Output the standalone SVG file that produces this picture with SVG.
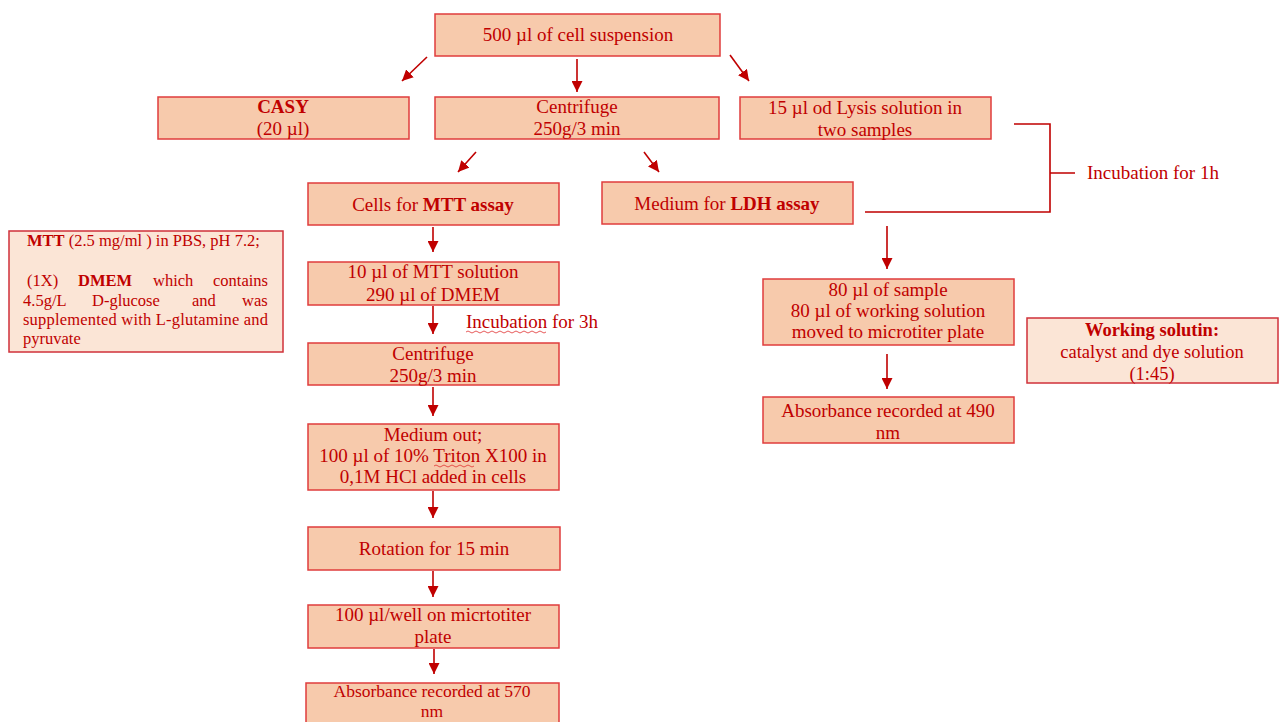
<svg xmlns="http://www.w3.org/2000/svg" width="1281" height="722" viewBox="0 0 1281 722">
<style>
text{font-family:"Liberation Serif","Times New Roman",serif;font-size:19px;fill:#c00000;text-anchor:middle}
.b{font-weight:bold}
.box{fill:#f7caac;stroke:#e03c3c;stroke-width:1.5}
.note{fill:#fbe5d6;stroke:#d0303a;stroke-width:1.5}
.n{font-size:16.5px;text-anchor:start}
.c{stroke:#c00000;stroke-width:1.6;fill:none}
.w{stroke:#e03030;stroke-width:0.8;fill:none}
</style>
<defs>
<marker id="ah" viewBox="0 0 10 10" refX="10" refY="5" markerWidth="11" markerHeight="11" markerUnits="userSpaceOnUse" orient="auto">
<path d="M0,0 L10,5 L0,10 z" fill="#c00000"/>
</marker>
</defs>
<rect width="1281" height="722" fill="#ffffff"/>

<g id="connectors">
<line class="c" x1="427" y1="57" x2="402" y2="81" marker-end="url(#ah)"/>
<line class="c" x1="577" y1="59" x2="577" y2="92" marker-end="url(#ah)"/>
<line class="c" x1="730" y1="55" x2="749" y2="81" marker-end="url(#ah)"/>
<line class="c" x1="476" y1="152" x2="458" y2="172" marker-end="url(#ah)"/>
<line class="c" x1="644" y1="152" x2="659" y2="172" marker-end="url(#ah)"/>
<line class="c" x1="433" y1="227" x2="433" y2="252" marker-end="url(#ah)"/>
<line class="c" x1="433" y1="306" x2="433" y2="334" marker-end="url(#ah)"/>
<line class="c" x1="433" y1="387" x2="433" y2="416" marker-end="url(#ah)"/>
<line class="c" x1="433" y1="491" x2="433" y2="518" marker-end="url(#ah)"/>
<line class="c" x1="433" y1="571" x2="433" y2="597" marker-end="url(#ah)"/>
<line class="c" x1="434" y1="649" x2="434" y2="674" marker-end="url(#ah)"/>
<line class="c" x1="887" y1="226" x2="887" y2="269" marker-end="url(#ah)"/>
<line class="c" x1="887" y1="354" x2="887" y2="389" marker-end="url(#ah)"/>
<path class="c" d="M1014,124 H1050 V212 H865 M1050,173 H1075" stroke-width="1.3"/>
<text x="1087" y="179" style="text-anchor:start">Incubation for 1h</text>
<text x="466" y="328" style="text-anchor:start">Incubation for 3h</text>
<path class="w" d="M466,332 q2,-2 4,0 t4,0 t4,0 t4,0 t4,0 t4,0 t4,0 t4,0 t4,0 t4,0 t4,0 t4,0 t4,0 t4,0 t4,0 t4,0 t4,0 t4,0 t4,0 t4,0"/>
</g>

<g id="n-suspension">
<rect class="box" x="435" y="14" width="285" height="42"/>
<text x="578" y="41">500 µl of cell suspension</text>
</g>
<g id="n-casy">
<rect class="box" x="158" y="97" width="251" height="42"/>
<text x="283" y="113" class="b">CASY</text>
<text x="283" y="135">(20 µl)</text>
</g>
<g id="n-centrifuge1">
<rect class="box" x="435" y="97" width="284" height="42"/>
<text x="577" y="113">Centrifuge</text>
<text x="577" y="135">250g/3 min</text>
</g>
<g id="n-lysis">
<rect class="box" x="740" y="97" width="251" height="42"/>
<text x="865" y="114">15 µl od Lysis solution in</text>
<text x="865" y="136">two samples</text>
</g>
<g id="n-mttcells">
<rect class="box" x="308" y="183" width="251" height="42"/>
<text x="433" y="211">Cells for <tspan class="b">MTT assay</tspan></text>
</g>
<g id="n-ldhmedium">
<rect class="box" x="602" y="182" width="251" height="42"/>
<text x="727" y="210">Medium for <tspan class="b">LDH assay</tspan></text>
</g>
<g id="n-mttnote">
<rect class="note" x="9" y="231" width="274" height="121"/>
<text class="n" x="27" y="246"><tspan class="b">MTT</tspan> (2.5 mg/ml ) in PBS, pH 7.2;</text>
<text class="n" y="286"><tspan x="27">(1X)</tspan><tspan x="78" class="b">DMEM</tspan><tspan x="153">which</tspan><tspan x="213">contains</tspan></text>
<text class="n" y="306"><tspan x="23">4.5g/L</tspan><tspan x="92">D-glucose</tspan><tspan x="192">and</tspan><tspan x="242">was</tspan></text>
<text class="n" x="23" y="325" textLength="245" lengthAdjust="spacing">supplemented with L-glutamine and</text>
<text class="n" x="23" y="344">pyruvate</text>
</g>
<g id="n-mttsolution">
<rect class="box" x="308" y="262" width="251" height="43"/>
<text x="433" y="278">10 µl of MTT solution</text>
<text x="433" y="301">290 µl of DMEM</text>
</g>
<g id="n-centrifuge2">
<rect class="box" x="308" y="343" width="251" height="42"/>
<text x="433" y="360">Centrifuge</text>
<text x="433" y="382">250g/3 min</text>
</g>
<g id="n-mediumout">
<rect class="box" x="308" y="424" width="251" height="66"/>
<text x="433" y="441">Medium out;</text>
<text x="433" y="462">100 µl of 10% Triton X100 in</text>
<text x="433" y="483">0,1M HCl added in cells</text>
<path class="w" d="M434,466 q2,-2 4,0 t4,0 t4,0 t4,0 t4,0 t4,0 t4,0 t4,0 t4,0 t4,0"/>
</g>
<g id="n-rotation">
<rect class="box" x="308" y="527" width="252" height="43"/>
<text x="434" y="555">Rotation for 15 min</text>
</g>
<g id="n-well">
<rect class="box" x="308" y="605" width="251" height="43"/>
<text x="433" y="621">100 µl/well on micrtotiter</text>
<text x="433" y="643">plate</text>
</g>
<g id="n-abs570">
<rect class="box" x="306" y="683" width="253" height="50"/>
<text x="432" y="697" style="font-size:17.5px">Absorbance recorded at 570</text>
<text x="432" y="717" style="font-size:17.5px">nm</text>
</g>
<g id="n-ldhsample">
<rect class="box" x="763" y="279" width="251" height="66"/>
<text x="888" y="296">80 µl of sample</text>
<text x="888" y="317">80 µl of working solution</text>
<text x="888" y="338">moved to microtiter plate</text>
</g>
<g id="n-working">
<rect class="note" x="1027" y="318" width="251" height="65"/>
<text x="1152" y="336" class="b" style="font-size:18.5px">Working solutin:</text>
<text x="1152" y="358" style="font-size:18.5px">catalyst and dye solution</text>
<text x="1152" y="380" style="font-size:18.5px">(1:45)</text>
</g>
<g id="n-abs490">
<rect class="box" x="763" y="397" width="251" height="46"/>
<text x="888" y="417">Absorbance recorded at 490</text>
<text x="888" y="439">nm</text>
</g>
</svg>
